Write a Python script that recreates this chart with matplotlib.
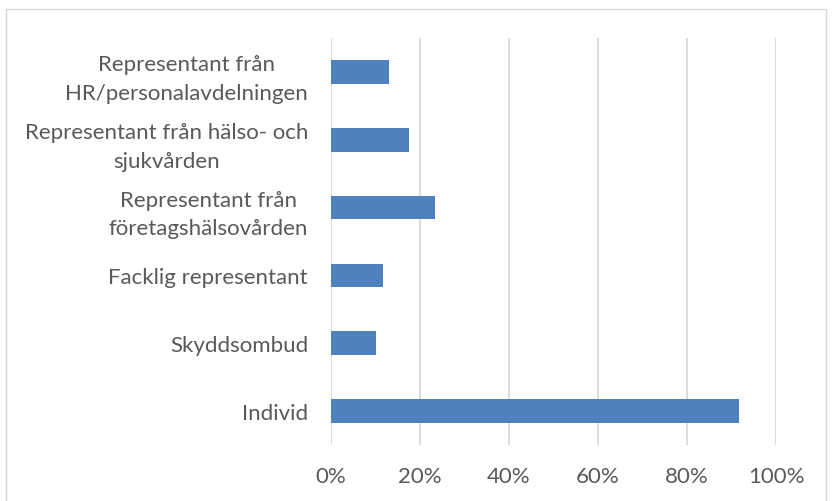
import matplotlib.pyplot as plt
import matplotlib.patches as mpatches
import numpy as np

# --- data ---
categories = ['Individ', 'Skyddsombud', 'Facklig representant',
              'Representant från\nföretagshälsovården',
              'Representant från hälso- och\nsjukvården',
              'Representant från\nHR/personalavdelningen']
values = [0.917, 0.101, 0.117, 0.234, 0.175, 0.13]
xticks = [0, 0.2, 0.4, 0.6, 0.8, 1.0]
xtick_labels = ['0%', '20%', '40%', '60%', '80%', '100%']

text_color = '#595959'
grid_color = '#d9d9d9'
bar_color = '#4f81bd'

plt.rcParams['font.family'] = ['Lato', 'DejaVu Sans']

fig = plt.figure(figsize=(8.32, 5.02), dpi=100)
ax = fig.add_axes([331 / 832, 1 - 446 / 502, 445 / 832, 407 / 502])

y = np.arange(len(categories))
ax.barh(y, values, height=0.35, color=bar_color, zorder=3)

ax.set_xlim(0, 1.0)
ax.set_ylim(-0.5, len(categories) - 0.5)
ax.set_xticks(xticks)
ax.set_xticklabels(xtick_labels)
ax.set_yticks(y)
ax.set_yticklabels(categories, multialignment='center', linespacing=1.55)

ax.grid(axis='x', color=grid_color, linewidth=1.3, zorder=0)
for s in ax.spines.values():
    s.set_visible(False)
ax.tick_params(axis='both', length=0, labelsize=16, colors=text_color)
ax.tick_params(axis='y', pad=16.5)
ax.tick_params(axis='x', pad=15)

# chart border
fig.patches.append(mpatches.Rectangle((6 / 832, -0.01), 820 / 832, 1 - 10 / 502 + 0.01,
                                      transform=fig.transFigure, fill=False,
                                      edgecolor=grid_color, linewidth=1))

fig.savefig('out.png', dpi=100)
